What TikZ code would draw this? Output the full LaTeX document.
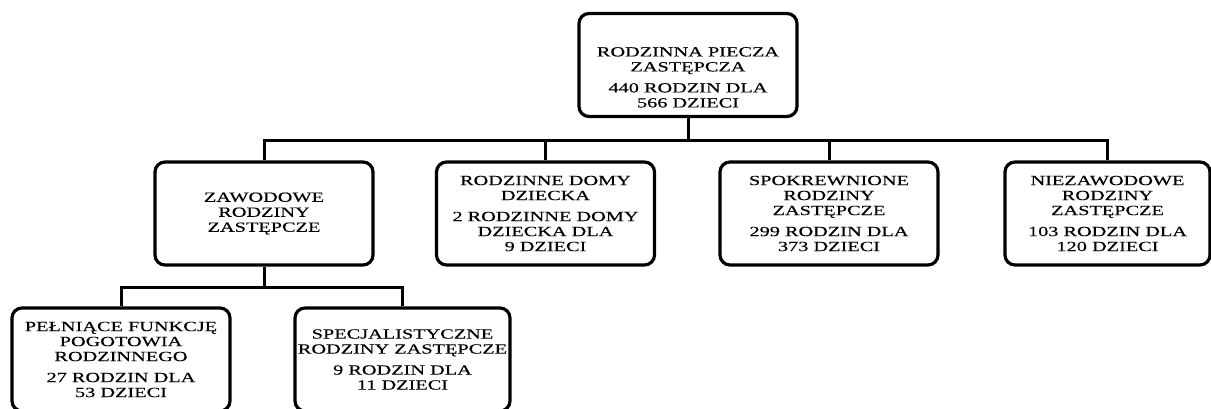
\documentclass[tikz,border=0pt]{standalone}
\usepackage{fontspec}
\usepackage{tikz}
\newfontfamily\boxfont[FakeStretch=1.45,FakeBold=0.3]{Liberation Serif}

\begin{document}
\begin{tikzpicture}[x=1pt,y=-1pt,line width=3pt,
  box node/.style={draw,line width=3.2pt,rounded corners=10pt,
    minimum width=218pt,minimum height=103pt,align=center,inner xsep=2pt,
    font=\boxfont\fontsize{14}{15}\selectfont}]

\useasboundingbox (0,0) rectangle (1211,408);
\clip (0,0) rectangle (1211,408);

  % top level
  \node[box node] at (688,65) (top) {{}\\[19pt]RODZINNA PIECZA\\ZASTĘPCZA\\[6pt]440 RODZIN DLA\\566 DZIECI};

  % second level
  \node[box node] at (264,213.5) (zaw) {ZAWODOWE\\RODZINY\\ZASTĘPCZE};
  \node[box node] at (545.5,213.5) (rdd) {RODZINNE DOMY\\DZIECKA\\[6pt]2 RODZINNE DOMY\\DZIECKA DLA\\9 DZIECI};
  \node[box node] at (829,213.5) (spo) {SPOKREWNIONE\\RODZINY\\ZASTĘPCZE\\[6pt]299 RODZIN DLA\\373 DZIECI};
  \node[box node,minimum width=205pt] at (1107.5,213.5) (nie) {NIEZAWODOWE\\RODZINY\\ZASTĘPCZE\\[6pt]103 RODZIN DLA\\120 DZIECI};

  % third level
  \node[box node] at (121,359.5) (pel) {PEŁNIĄCE FUNKCJĘ\\POGOTOWIA\\RODZINNEGO\\[6pt]27 RODZIN DLA\\53 DZIECI};
  \node[box node,minimum width=215pt] at (402.5,359.5) (spe) {SPECJALISTYCZNE\\RODZINY ZASTĘPCZE\\[6pt]9 RODZIN DLA\\11 DZIECI};

  \coordinate (bar) at (688,140);
  \coordinate (sub) at (264,287);

  \draw (top.south) -- (bar);
  \draw (zaw.north) |- (bar) -| (nie.north);
  \draw (bar) -| (rdd.north);
  \draw (bar) -| (spo.north);

  \draw (zaw.south) -- (sub);
  \draw (pel.north) |- (sub) -| (spe.north);

\end{tikzpicture}
\end{document}
